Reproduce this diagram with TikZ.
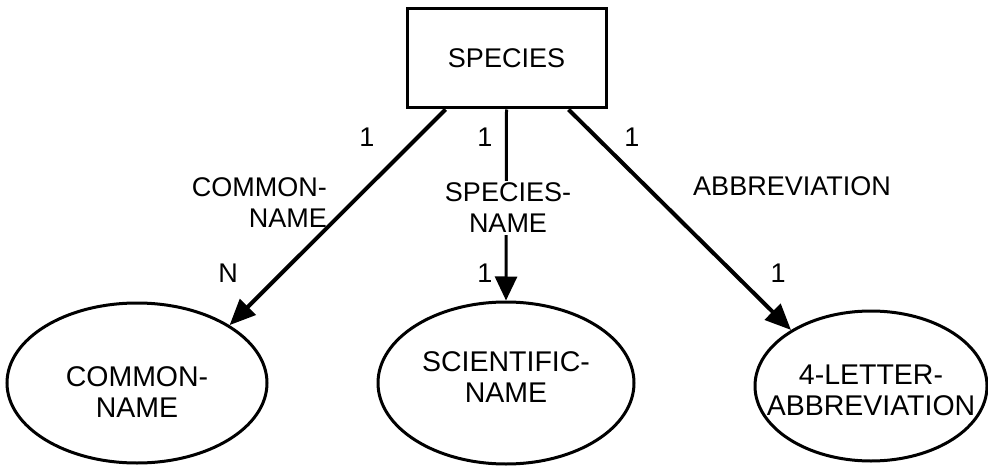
\documentclass[tikz,border=0pt]{standalone}
\usepackage{fontspec}
\setmainfont{Liberation Sans}
\usetikzlibrary{arrows.meta,shapes.geometric}
\begin{document}
\begin{tikzpicture}[x=1pt,y=-1pt,
  lbl/.style={font=\fontsize{27}{31}\selectfont, inner sep=1pt, align=center},
  inner/.style={font=\fontsize{28.5}{31}\selectfont, inner sep=0pt, align=center},
  entity/.style={draw, line width=3pt, minimum width=199pt, minimum height=99pt, font=\fontsize{27}{31}\selectfont},
  attr/.style={draw, ellipse, line width=3pt, inner sep=0pt},
  rel/.style={line width=4pt, -{Triangle[length=26pt,width=22pt]}},
  relv/.style={line width=3pt, -{Triangle[length=24pt,width=22pt]}}]
\useasboundingbox (0,0) rectangle (988,468);

% entity box
\node[entity] (sp) at (506.5,58.5) {SPECIES};

% attribute ellipses (fixed size, text placed separately)
\node[attr, minimum width=260pt, minimum height=160pt] (cn) at (137,383) {};
\node[attr, minimum width=256pt, minimum height=162pt] (sn) at (506,383) {};
\node[attr, minimum width=232pt, minimum height=150pt] (ab) at (871,386) {};
\node[inner] (tcn) at ([yshift=-9pt]cn.center) {COMMON-\\NAME};
\node[inner] (tsn) at ([yshift=6pt]sn.center) {SCIENTIFIC-\\NAME};
\node[inner] (tab) at ([yshift=-4pt]ab.center) {4-LETTER-\\ABBREVIATION};

% relationships
\draw[rel] ([xshift=40pt]sp.south west) -- (cn.32);
\draw[relv] (sp.south) -- (sn.north);
\draw[rel] ([xshift=-39pt]sp.south east) -- (ab.145);

% relationship names
\node[lbl, align=right, anchor=east] (lcn) at (328,203) {COMMON-\\NAME};
\node[lbl, fill=white, inner sep=2pt] (lsn) at (508,208) {SPECIES-\\NAME};
\node[lbl] (lab) at (792,186) {ABBREVIATION};

% cardinalities
\node[lbl] (c1) at (367,137) {1};
\node[lbl] (c2) at (228,273) {N};
\node[lbl] (c3) at (485,137) {1};
\node[lbl] (c4) at (485,273) {1};
\node[lbl] (c5) at (632,137) {1};
\node[lbl] (c6) at (778,273) {1};
\end{tikzpicture}
\end{document}
